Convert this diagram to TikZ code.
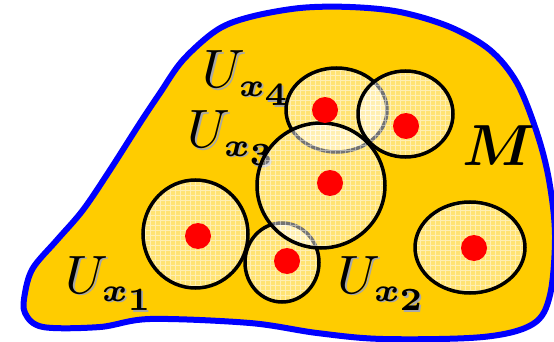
\documentclass[tikz,border=0pt]{standalone}
\usepackage{graphicx}
\usepackage{amsmath}
\DeclareMathSizes{10}{10}{6}{6}
\definecolor{blobfill}{HTML}{FFCC00}
\definecolor{blobline}{HTML}{0000FF}
\definecolor{shadowgray}{HTML}{A8A8A8}
\tikzset{
  blob/.style={fill=blobfill, draw=blobline, line width=6pt, line join=round},
  ringline/.style={draw=black, line width=3.5pt},
  ringfill/.style={fill=white, fill opacity=0.45},
  gridline/.style={draw=white, opacity=0.45, line width=0.5pt},
  dot/.style={fill=red},
  lab/.style={anchor=base west, inner sep=0pt},
  labshadow/.style={lab, text=shadowgray}
}
\newcommand\mybig[1]{\scalebox{5.4}{\normalsize$U_{\boldsymbol{x}_{\boldsymbol{#1}}}$}}
\newcommand\myring[5]{%
  \coordinate (#1) at (#2,#3);
  \begin{scope}
    \clip (#1) ellipse [x radius=#4, y radius=#5];
    \path[ringfill] (#1) ellipse [x radius=#4, y radius=#5];
    \draw[gridline, step=5pt] (#2-#4,#3-#5) grid (#2+#4,#3+#5);
  \end{scope}
  \path[ringline] (#1) ellipse [x radius=#4, y radius=#5];
}
\newcommand\mylabel[4]{%
  \node[labshadow] (#1s) at (#2+1.8,#3+1.8) {\mybig{#4}};
  \node[lab] (#1) at (#2,#3) {\mybig{#4}};
}
\begin{document}
\begin{tikzpicture}[x=1pt,y=-1pt]
\useasboundingbox (0,0) rectangle (554,342);
% manifold
\path[blob] plot[smooth cycle, tension=0.55] coordinates {
  (25,293) (33,268) (57,240) (83,210) (110,170) (140,123) (160,93) (183,60)
  (217,30) (250,17) (300,8) (350,7) (400,12) (450,27) (490,50) (517,83)
  (537,133) (549,180) (555,235) (550,295) (533,324) (483,337) (383,339)
  (317,333) (250,323) (150,319) (100,327) (43,327) (25,313)};
% labels
\mylabel{l4}{202}{88}{4}
\mylabel{l3}{187}{148}{3}
\mylabel{l1}{65}{293}{1}
\mylabel{l2}{337}{293}{2}
\node[lab] (m) at (462,165) {\scalebox{5.8}{\normalsize\boldmath$M$}};
% open sets
\myring{c1}{195.5}{234}{52.5}{54}
\myring{c2}{470}{247.5}{55}{45.5}
\myring{c4}{336.5}{110}{50.5}{42}
\myring{c6}{282}{262.5}{37}{39.5}
\myring{c5}{405.5}{114}{47.5}{43}
\myring{c3}{321}{185.5}{64}{62.5}
% points
\fill[dot] (198,236) circle [radius=13];
\fill[dot] (474,248) circle [radius=13];
\fill[dot] (325,110) circle [radius=13];
\fill[dot] (287,261) circle [radius=13];
\fill[dot] (406,126) circle [radius=13];
\fill[dot] (330,183) circle [radius=13];
\end{tikzpicture}
\end{document}
